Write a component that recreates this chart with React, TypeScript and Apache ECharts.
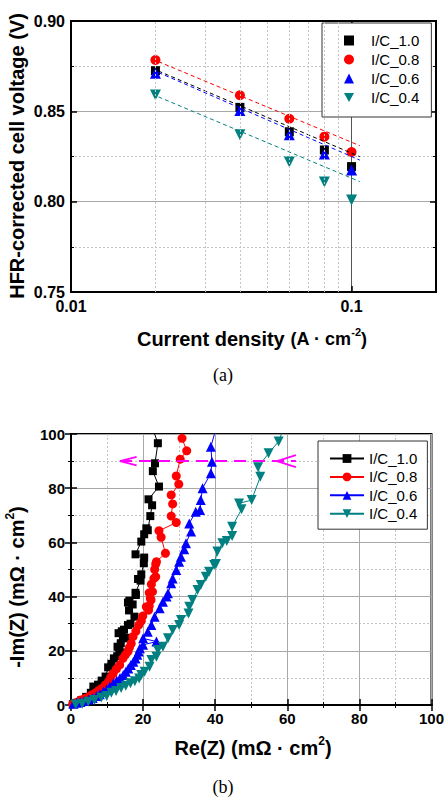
import React, { useEffect, useRef } from 'react';
import * as echarts from 'echarts';

// ---------- shared ----------
const seriesNames = ['I/C_1.0', 'I/C_0.8', 'I/C_0.6', 'I/C_0.4'];
const seriesColors = ['#000000', '#ff0000', '#0000ff', '#008080'];
const downTriangle = 'path://M0,0 L20,0 L10,18 Z';
const seriesSymbols = ['rect', 'circle', 'triangle', downTriangle];
const FONT = 'Liberation Sans';

// ---------- (a) Tafel data ----------
const currentDensity = [0.02, 0.04, 0.06, 0.08, 0.1];
const voltIC10 = [0.8725, 0.8522, 0.8387, 0.8286, 0.8194];
const voltIC08 = [0.8784, 0.8589, 0.8459, 0.836, 0.8275];
const voltIC06 = [0.8711, 0.8504, 0.8371, 0.8264, 0.8175];
const voltIC04 = [0.859, 0.8371, 0.822, 0.8109, 0.8009];
const fitX = [0.0205, 0.107];
const fitIC10 = [0.8723, 0.8249];
const fitIC08 = [0.8775, 0.831];
const fitIC06 = [0.8715, 0.823];
const fitIC04 = [0.858, 0.8111];
const xMinorGrid = [0.02, 0.03, 0.04, 0.05, 0.06, 0.07, 0.08, 0.09];
const xTickValues = [0.01, 0.1];
const xTickLabels = ['0.01', '0.1'];

// ---------- (b) EIS data ----------
const reIC10 = [0.5, 1.5, 2.9, 4.2, 5.5, 6.2, 7.5, 8.5, 9.6, 10.3, 11.2, 11.9, 12.8, 13.4, 14.3, 12.9, 13.8, 14.4, 15.4, 13.2, 14.1, 14.7, 15.8, 16.5, 17.6, 16.1, 15.8, 17.1, 16.2, 18, 17.9, 19.3, 18.6, 19.5, 20.2, 20.3, 17.9, 19.5, 20.3, 20.9, 21.3, 22, 22.5, 21.5, 24.4, 22.7, 23.3, 24.1, 22.8];
const imIC10 = [0.3, 0.8, 1.8, 3, 4.5, 6.8, 7.5, 9, 10.5, 13.9, 15.2, 17.2, 18, 20.3, 19.4, 21.5, 22.8, 24.6, 24.8, 26.5, 27.2, 27.8, 29.5, 30, 32.6, 34.9, 37.8, 37.1, 38.5, 40.6, 41.4, 45.9, 46.5, 48.2, 52.3, 54.4, 55.6, 60.3, 63, 65.2, 64.5, 69.7, 73.7, 75.9, 80.6, 86.3, 89.2, 96.6, 101.5];

const reIC08 = [0.5, 1.5, 2.6, 3.8, 4.9, 5.8, 6.7, 7.6, 8.5, 9.5, 10.4, 11, 11.7, 12.6, 13.5, 14.4, 15.1, 15.8, 16.2, 16.7, 17.2, 18, 18.8, 19.5, 19.9, 21.5, 20.9, 21.7, 22.2, 22, 21.7, 22.6, 22.3, 23, 23.5, 23.2, 23.5, 23.7, 26.2, 25, 24.4, 29.2, 27.8, 28.2, 27.8, 29.9, 29.2, 30.3, 32.1, 30.8];
const imIC08 = [0.4, 0.9, 1.8, 2.4, 3, 3.8, 4.4, 5.3, 6.1, 7.4, 8.6, 10.2, 11.7, 13.3, 14.8, 17.2, 18.5, 19.7, 21.2, 22.7, 25.2, 27.2, 29.5, 31, 32.8, 35, 36.3, 36.5, 38.7, 39.3, 41.4, 41.8, 44.6, 46.7, 47.3, 50, 52, 52.9, 56, 61.9, 64.3, 67.3, 69.7, 74.2, 77.5, 81.5, 84.5, 90.7, 93.8, 98.4];

const reIC06 = [0.7, 1.6, 2.6, 3.7, 4.9, 6, 7.1, 8, 9, 9.9, 10.8, 11.8, 12.7, 13.6, 14.5, 15.2, 15.9, 16.6, 17.3, 17.9, 18.4, 18.8, 19.1, 20, 23.7, 20, 21.3, 22.3, 23.2, 24.6, 25.5, 26.5, 26.9, 27.8, 28.2, 29.2, 30, 30.5, 31.4, 31.9, 33.3, 32.8, 34.6, 35.8, 36, 36.5, 38.8, 39.1, 38.8, 39.9];
const imIC06 = [0.5, 0.8, 1.1, 1.5, 2, 2.6, 3.3, 4, 4.9, 5.8, 6.8, 8, 9, 10, 11.1, 12.3, 13.5, 14.8, 16, 17.2, 18.5, 19.7, 20.9, 22.2, 23.4, 24.6, 27, 29.5, 32.6, 35.7, 38.1, 40, 41.2, 44.9, 46.7, 49.8, 52.9, 54.7, 57.5, 59.7, 64, 67, 71.3, 72, 75.6, 80, 85.5, 89.8, 95.3, 100.5];

const reIC04 = [1.3, 3.1, 4.8, 6.5, 8.4, 9.9, 11.2, 12.5, 13.9, 15.2, 16.5, 17.7, 18.9, 19.5, 20.4, 21.8, 22.3, 23.7, 24.1, 25.5, 26.9, 28.2, 30, 30.5, 32.6, 32.8, 33.7, 35.1, 36, 37.4, 38.3, 40.2, 39.7, 40.6, 42, 43.2, 44.7, 44.7, 47.3, 46.6, 50.1, 52.5, 51.9, 54.8, 57.6, 58.6];
const imIC04 = [0.2, 0.5, 1.2, 1.8, 2.8, 3.3, 4.5, 5.2, 6.3, 7.1, 8, 8.8, 9.8, 11.1, 12.3, 14.1, 16.6, 17.8, 20.3, 21.5, 24.6, 27.7, 29.5, 31.4, 33.8, 36.3, 38.7, 42.4, 44.3, 47.3, 49.2, 52, 51.7, 56.6, 59.7, 60.5, 62.4, 65.8, 72.2, 74.4, 75.6, 84.2, 87.7, 92.9, 97.2, 100.8];

const arrowRe = [13.6, 62.4];
const arrowIm = [90, 90];
const leftHeadRe = [18.2, 13.6, 18.2];
const leftHeadIm = [91.6, 90, 88.4];
const rightHeadRe = [62.4, 57.1, 62.4];
const rightHeadIm = [92.2, 90, 87.8];

const zip = (a: number[], b: number[]) => a.map((v, i) => [v, b[i]]);

// ---------- helpers ----------
const frameLine = { show: true, lineStyle: { color: '#000', width: 2 } };
const inTick = { show: true, inside: true, length: 6, lineStyle: { color: '#000', width: 1.5 } };
const inMinorTick = { show: true, splitNumber: 2, length: 3, lineStyle: { color: '#000', width: 1 } };
const majorGrid = { show: true, lineStyle: { color: '#a8a8a8', width: 1 } };
const minorGrid = { show: true, lineStyle: { color: '#c4c4c4', width: 1, type: [2, 2] } };

// ---------- (a) option ----------
const fitSets = [fitIC10, fitIC08, fitIC06, fitIC04];
const voltSets = [voltIC10, voltIC08, voltIC06, voltIC04];
const topSymbolSizes = [9, 10, 11, 11];

const topOption: any = {
  animation: false,
  grid: { left: 71, top: 21, width: 365, height: 271, show: true, borderColor: '#000', borderWidth: 2 },
  xAxis: [
    {
      type: 'log', logBase: 10, min: 0.01, max: 0.2, position: 'bottom',
      axisLine: frameLine, axisTick: inTick,
      axisLabel: {
        margin: 6, fontSize: 16, fontWeight: 'bold', fontFamily: FONT, color: '#000',
        formatter: (v: number) => {
          const i = xTickValues.findIndex((t) => Math.abs(t - v) / t < 1e-6);
          return i >= 0 ? xTickLabels[i] : '';
        },
      },
      splitLine: { show: true, lineStyle: { color: '#555', width: 1 } },
    },
    {
      type: 'log', logBase: 10, min: 0.01, max: 0.2, position: 'top',
      axisLine: frameLine, axisTick: inTick, axisLabel: { show: false }, splitLine: { show: false },
    },
  ],
  yAxis: [
    {
      type: 'value', min: 0.75, max: 0.9, interval: 0.05, position: 'left',
      axisLine: frameLine, axisTick: inTick, minorTick: inMinorTick,
      axisLabel: { margin: 6, fontSize: 16, fontWeight: 'bold', fontFamily: FONT, color: '#000', formatter: (v: number) => v.toFixed(2) },
      splitLine: majorGrid, minorSplitLine: minorGrid,
    },
    {
      type: 'value', min: 0.75, max: 0.9, interval: 0.05, position: 'right',
      axisLine: frameLine, axisTick: inTick, minorTick: inMinorTick,
      axisLabel: { show: false }, splitLine: { show: false },
    },
  ],
  legend: {
    data: seriesNames, orient: 'vertical', left: 322, top: 23,
    itemWidth: 10, itemHeight: 10, itemGap: 4, padding: [10, 12, 12, 22],
    borderColor: '#333', borderWidth: 1, backgroundColor: '#fff',
    textStyle: { fontSize: 15, fontFamily: FONT, color: '#000', padding: [0, 0, 0, 12] },
  },
  series: [
    {
      name: 'minor-grid', type: 'line', data: [], silent: true,
      markLine: {
        silent: true, symbol: 'none', label: { show: false },
        lineStyle: { color: '#c4c4c4', width: 1, type: [2, 2] },
        data: xMinorGrid.map((x) => ({ xAxis: x })),
      },
    },
    ...fitSets.map((f, i) => ({
      name: 'fit ' + seriesNames[i], type: 'line', data: zip(fitX, f), symbol: 'none', silent: true,
      lineStyle: { color: seriesColors[i], width: 1, type: [4, 3] },
    })),
    ...voltSets.map((v, i) => ({
      name: seriesNames[i], type: 'scatter', data: zip(currentDensity, v),
      symbol: seriesSymbols[i], symbolSize: topSymbolSizes[i],
      itemStyle: { color: seriesColors[i], opacity: 1 },
    })),
  ],
  graphic: [
    {
      type: 'text', x: 17, y: 156, rotation: Math.PI / 2,
      style: { text: 'HFR-corrected cell voltage (V)', font: `bold 20px "${FONT}"`, fill: '#000', align: 'center', verticalAlign: 'middle' },
    },
    {
      type: 'text', x: 252, y: 339,
      style: {
        text: '{a|Current density }{b|(A · cm}{s|-2}{b|)}', align: 'center', verticalAlign: 'middle', fill: '#000',
        rich: {
          a: { fontSize: 20, fontWeight: 'bold', fontFamily: FONT, lineHeight: 26 },
          b: { fontSize: 18, fontWeight: 'bold', fontFamily: FONT, lineHeight: 26 },
          s: { fontSize: 11, fontWeight: 'bold', fontFamily: FONT, verticalAlign: 'top', lineHeight: 12 },
        },
      },
    },
    {
      type: 'text', x: 223, y: 375,
      style: { text: '(a)', font: '18px "Liberation Serif"', fill: '#000', align: 'center', verticalAlign: 'middle' },
    },
  ],
};

// ---------- (b) option ----------
const eisSets = [zip(reIC10, imIC10), zip(reIC08, imIC08), zip(reIC06, imIC06), zip(reIC04, imIC04)];
const botSymbolSizes = [8, 9, 10, 10];
const valAxis = (pos: string, showLabel: boolean) => ({
  type: 'value', min: 0, max: 100, interval: 20, position: pos,
  axisLine: frameLine, axisTick: inTick, minorTick: inMinorTick,
  axisLabel: showLabel ? { margin: 6, fontSize: 15, fontWeight: 'bold', fontFamily: FONT, color: '#000' } : { show: false },
  splitLine: showLabel ? majorGrid : { show: false },
  minorSplitLine: showLabel ? minorGrid : { show: false },
});

const magenta = '#ff00ff';
const bottomOption: any = {
  animation: false,
  grid: { left: 71, top: 34, width: 364, height: 271, show: true, borderColor: '#000', borderWidth: 2 },
  xAxis: [valAxis('bottom', true), valAxis('top', false)],
  yAxis: [valAxis('left', true), valAxis('right', false)],
  legend: {
    data: seriesNames, orient: 'vertical', left: 318, top: 41,
    itemWidth: 34, itemHeight: 11, itemGap: 3.4, padding: [10, 10, 8, 11],
    borderColor: '#333', borderWidth: 1, backgroundColor: '#fff',
    textStyle: { fontSize: 15, fontFamily: FONT, color: '#000' },
  },
  series: [
    ...eisSets.map((d, i) => ({
      name: seriesNames[i], type: 'line', data: d,
      symbol: seriesSymbols[i], symbolSize: botSymbolSizes[i], showSymbol: true,
      lineStyle: { color: seriesColors[i], width: 1 },
      itemStyle: { color: seriesColors[i] },
    })),
    {
      name: 'arrow', type: 'line', data: zip(arrowRe, arrowIm), symbol: 'none', silent: true, z: 5,
      lineStyle: { color: magenta, width: 2, type: [12, 7] },
    },
    {
      name: 'arrow-left', type: 'line', data: zip(leftHeadRe, leftHeadIm), symbol: 'none', silent: true, z: 5,
      lineStyle: { color: magenta, width: 1.8 },
    },
    {
      name: 'arrow-right', type: 'line', data: zip(rightHeadRe, rightHeadIm), symbol: 'none', silent: true, z: 5,
      lineStyle: { color: magenta, width: 1.8 },
    },
  ],
  graphic: [
    {
      type: 'text', x: 17, y: 187, rotation: Math.PI / 2,
      style: {
        text: '{a|-Im(Z) (mΩ · cm}{s|2}{a|)}', align: 'center', verticalAlign: 'middle', fill: '#000',
        rich: {
          a: { fontSize: 20, fontWeight: 'bold', fontFamily: FONT, lineHeight: 26 },
          s: { fontSize: 12, fontWeight: 'bold', fontFamily: FONT, verticalAlign: 'top', lineHeight: 13 },
        },
      },
    },
    {
      type: 'text', x: 253, y: 348,
      style: {
        text: '{a|Re(Z) (mΩ · cm}{s|2}{a|)}', align: 'center', verticalAlign: 'middle', fill: '#000',
        rich: {
          a: { fontSize: 20, fontWeight: 'bold', fontFamily: FONT, lineHeight: 26 },
          s: { fontSize: 12, fontWeight: 'bold', fontFamily: FONT, verticalAlign: 'top', lineHeight: 13 },
        },
      },
    },
    {
      type: 'text', x: 223, y: 387,
      style: { text: '(b)', font: '18px "Liberation Serif"', fill: '#000', align: 'center', verticalAlign: 'middle' },
    },
  ],
};

function EChart({ option, top }: { option: any; top: number }) {
  const ref = useRef<HTMLDivElement>(null);
  useEffect(() => {
    const chart = echarts.init(ref.current as HTMLDivElement, null, { renderer: 'svg' });
    chart.setOption(option);
    return () => chart.dispose();
  }, [option]);
  return <div ref={ref} style={{ position: 'absolute', left: 0, top, width: 447, height: 400 }} />;
}

export default function App() {
  return (
    <div style={{ position: 'absolute', left: 0, top: 0, width: 447, height: 800, background: '#fff' }}>
      <EChart option={topOption} top={0} />
      <EChart option={bottomOption} top={400} />
    </div>
  );
}
